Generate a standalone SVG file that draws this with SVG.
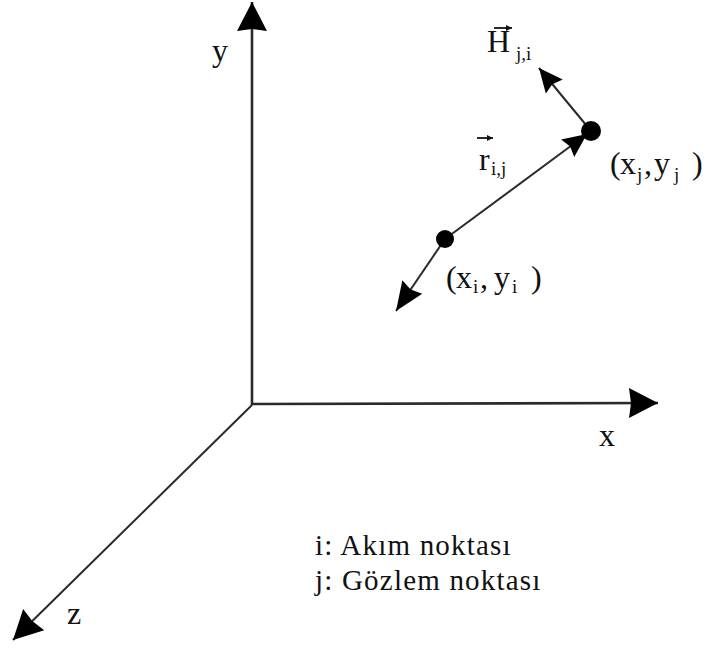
<svg xmlns="http://www.w3.org/2000/svg" width="707" height="648" viewBox="0 0 707 648">
<style>
  .ax { stroke:#2a2a2a; stroke-width:2.6; fill:none; }
  .vec { stroke:#2a2a2a; stroke-width:2; fill:none; }
  .t { font-family:"Liberation Serif","Times New Roman","DejaVu Serif",serif; fill:#111; font-size:32px; }
  .sub { font-size:19px; }
  .leg { font-size:29px; letter-spacing:1.2px; }
  .dot { fill:#000; }
</style>
<defs>
  <marker id="big" viewBox="-31 -17 32 34" markerWidth="32" markerHeight="34" refX="0" refY="0" orient="auto" markerUnits="userSpaceOnUse">
    <path d="M0,0 L-29,-15 L-27,0 L-29,15 Z" fill="#000"/>
  </marker>
  <marker id="mid" viewBox="-31 -14 32 28" markerWidth="32" markerHeight="28" refX="0" refY="0" orient="auto" markerUnits="userSpaceOnUse">
    <path d="M0,0 L-29,-12 L-26,0 L-29,12 Z" fill="#000"/>
  </marker>
  <marker id="small" viewBox="-25 -12 26 24" markerWidth="26" markerHeight="24" refX="0" refY="0" orient="auto" markerUnits="userSpaceOnUse">
    <path d="M0,0 L-24,-11 L-21,0 L-24,11 Z" fill="#000"/>
  </marker>
  <marker id="tiny" viewBox="-6 -3 7 6" markerWidth="7" markerHeight="6" refX="0" refY="0" orient="auto" markerUnits="userSpaceOnUse">
    <path d="M0,0 L-6,-3 L-6,3 Z" fill="#111"/>
  </marker>
</defs>

<g id="connectors">
  <line id="y-axis" class="ax" x1="252" y1="405" x2="252" y2="2" marker-end="url(#big)"/>
  <line id="x-axis" class="ax" x1="251" y1="404" x2="658" y2="403" marker-end="url(#big)"/>
  <line id="z-axis" class="vec" x1="252" y1="405" x2="13" y2="640" marker-end="url(#big)"/>
  <line id="r-ij" class="vec" x1="445" y1="239" x2="587" y2="134" marker-end="url(#small)"/>
  <line id="h-ji" class="vec" x1="591" y1="131" x2="539" y2="68" marker-end="url(#small)"/>
  <line id="i-out" class="vec" x1="445" y1="239" x2="396" y2="311" marker-end="url(#mid)"/>
</g>

<g id="point-i">
  <circle class="dot" cx="445" cy="239" r="9"/>
  <text class="t" y="288"><tspan x="446">(</tspan><tspan x="456">x</tspan><tspan class="sub" x="473" y="293">i</tspan><tspan x="480" y="288">,</tspan><tspan x="494">y</tspan><tspan class="sub" x="512" y="293">i</tspan><tspan x="531" y="288">)</tspan></text>
</g>

<g id="point-j">
  <circle class="dot" cx="591" cy="131" r="10"/>
  <text class="t" y="174"><tspan x="610">(</tspan><tspan x="620">x</tspan><tspan class="sub" x="637" y="181">j</tspan><tspan x="644" y="174">,</tspan><tspan x="654">y</tspan><tspan class="sub" x="674" y="181">j</tspan><tspan x="692" y="174">)</tspan></text>
</g>

<g id="label-H">
  <line class="vec" x1="494" y1="28" x2="512" y2="28" stroke-width="1.6" marker-end="url(#tiny)"/>
  <text class="t" x="487" y="52" font-size="29">H</text>
  <text class="t sub" x="516" y="60">j,i</text>
</g>

<g id="label-r">
  <line class="vec" x1="477" y1="138" x2="493" y2="138" stroke-width="1.6" marker-end="url(#tiny)"/>
  <text class="t" x="479" y="170">r</text>
  <text class="t sub" x="491" y="175">i,j</text>
</g>

<g id="axis-labels">
  <text class="t" x="212" y="61">y</text>
  <text class="t" x="599" y="446">x</text>
  <text class="t" x="67" y="624">z</text>
</g>

<g id="legend">
  <text class="t leg" x="315" y="555">i: Akım noktası</text>
  <text class="t leg" x="315" y="590">j: Gözlem noktası</text>
</g>
</svg>
